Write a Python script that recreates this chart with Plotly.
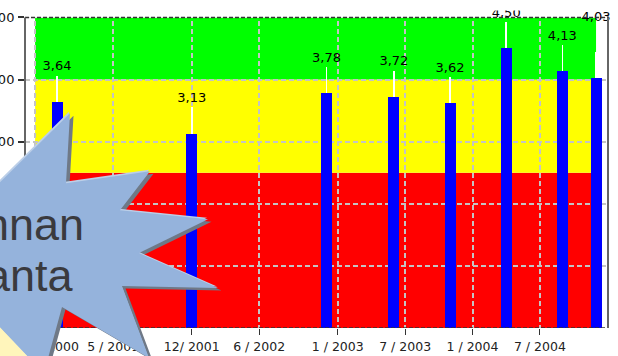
import plotly.graph_objects as go

# months counted from 12/2000
bar_months = [0, 12, 24, 30, 35, 40, 45, 48]
bar_values = [3.64, 3.13, 3.78, 3.72, 3.62, 4.50, 4.13, 4.03]
bar_labels = ["3,64", "3,13", "3,78", "3,72", "3,62", "4,50", "4,13", "4,03"]

tick_months = [-1.95, 5, 12, 18, 25, 31, 37, 43]
tick_labels = ["\u00a0" * 8 + "12/ 2000", "5 / 2001", "12/ 2001", "6 / 2002",
               "1 / 2003", "7 / 2003", "1 / 2004", "7 / 2004"]
y_ticks = [0, 1, 2, 3, 4, 5]
y_tick_labels = ["0,00", "1,00", "2,00", "3,00", "4,00", "5,00"]

band_edges = [0, 2.5, 4, 5]
band_colors = ["#ff0000", "#ffff00", "#00ff00"]

W, H = 618, 356
Y_TOP = 5.2
PX_PER_UNIT = 62.2
L, R, B = 25, 608, 328
T = B - Y_TOP * PX_PER_UNIT
LEADER = 0.42
LABEL_GAP = 0.56
X_MIN, X_MAX = (L - 57) / 11.23, (R - 57) / 11.23


def px_x(v):
    return (v - L) / (R - L)


def px_y(v):
    return (B - v) / (B - T)


def path(points, dx=0, dy=0):
    parts = [f"{px_x(x + dx):.5f},{px_y(y + dy):.5f}" for x, y in points]
    return "M" + " L".join(parts) + " Z"


star = [(-8, 190), (70, 113), (66, 183), (150, 171), (120, 210), (208, 219),
        (139, 253), (218, 288), (122, 286), (149, 358), (62, 307), (47, 362),
        (33, 362), (-5, 322)]
corner = [(-2, 324), (30, 359), (-2, 359)]

label_y = [v + LABEL_GAP for v in bar_values]
label_y[-1] = 5.0

fig = go.Figure()
fig.add_trace(go.Bar(
    x=bar_months, y=bar_values, width=0.98,
    marker=dict(color="#0000ff", line=dict(width=0)),
    error_y=dict(type="data", symmetric=False, array=[LEADER] * len(bar_values),
                 arrayminus=[0] * len(bar_values), color="#ffffff",
                 thickness=1.5, width=0),
    showlegend=False,
))
fig.add_trace(go.Scatter(
    x=bar_months, y=label_y, text=bar_labels, mode="text",
    textposition="middle center", cliponaxis=False,
    textfont=dict(family="DejaVu Sans", size=13, color="#000000"),
    showlegend=False,
))

shapes = []
for i, color in enumerate(band_colors):
    shapes.append(dict(type="rect", xref="x", yref="y", x0=-1.95, x1=48,
                       y0=band_edges[i], y1=band_edges[i + 1],
                       fillcolor=color, line_width=0, layer="below"))
# hides the gridlines above the top of the value range
shapes.append(dict(type="rect", xref="x", yref="y", x0=X_MIN, x1=X_MAX, y0=5, y1=Y_TOP,
                   fillcolor="#ffffff", line_width=0, layer="between"))
for yv in (0, 5):
    shapes.append(dict(type="line", xref="paper", yref="y", x0=0, x1=1, y0=yv, y1=yv,
                       line=dict(color="#333333", width=1.5, dash="4px,2px"),
                       layer="above"))
for xv in (0, 1):
    shapes.append(dict(type="line", xref="paper", yref="y", x0=xv, x1=xv, y0=0, y1=5,
                       line=dict(color="#666666", width=2), layer="above"))
shapes.append(dict(type="rect", xref="paper", yref="paper", x0=px_x(-2), x1=px_x(W + 2),
                   y0=px_y(10), y1=px_y(-2), fillcolor="#ffffff", line_width=0))
shapes.append(dict(type="path", xref="paper", yref="paper", path=path(corner),
                   fillcolor="#fff5bb", line_width=0))
shapes.append(dict(type="path", xref="paper", yref="paper", path=path(star, 3.5, 2.5),
                   fillcolor="#6f7987", line_width=0))
shapes.append(dict(type="path", xref="paper", yref="paper", path=path(star, -1, -1.5),
                   fillcolor="#bccfe8", line_width=0))
shapes.append(dict(type="path", xref="paper", yref="paper", path=path(star),
                   fillcolor="#95b3dc", line_width=0))

annotations = [
    dict(text="nnan", x=px_x(85), y=px_y(240), xref="paper", yref="paper",
         xanchor="right", yanchor="bottom", showarrow=False, borderpad=0,
         font=dict(family="Liberation Sans", size=45, color="#3a3a3e"), yshift=-11),
    dict(text="anta", x=px_x(75), y=px_y(291), xref="paper", yref="paper",
         xanchor="right", yanchor="bottom", showarrow=False, borderpad=0,
         font=dict(family="Liberation Sans", size=45, color="#3a3a3e"), yshift=-11),
]

grid = dict(showgrid=True, gridcolor="#c4c4c4", griddash="5px,3px", gridwidth=1.6)
fig.update_layout(
    width=W, height=H, margin=dict(l=L, r=W - R, t=T, b=H - B, autoexpand=False),
    paper_bgcolor="#ffffff", plot_bgcolor="rgba(0,0,0,0)",
    bargap=0, showlegend=False, shapes=shapes, annotations=annotations,
    xaxis=dict(range=[X_MIN, X_MAX], tickmode="array",
               tickvals=tick_months, ticktext=tick_labels, ticks="outside", ticklen=6,
               tickwidth=1, tickcolor="#333333", zeroline=False, showline=False,
               tickangle=0, automargin=False, ticklabelstandoff=1, ticklabeloverflow="allow",
               tickfont=dict(family="DejaVu Sans", size=12.5, color="#222222"), **grid),
    yaxis=dict(range=[0, Y_TOP], tickmode="array", tickvals=y_ticks, ticktext=y_tick_labels,
               ticks="outside", ticklen=6, tickwidth=1.5, tickcolor="#333333",
               zeroline=False, showline=False, automargin=False, ticklabelstandoff=1,
               ticklabeloverflow="allow",
               tickfont=dict(family="DejaVu Sans", size=13, color="#111111"), **grid),
)
fig.write_html("out.html", config={"displayModeBar": False},
               post_script="document.body.style.margin='0';document.body.style.overflow='hidden';")
